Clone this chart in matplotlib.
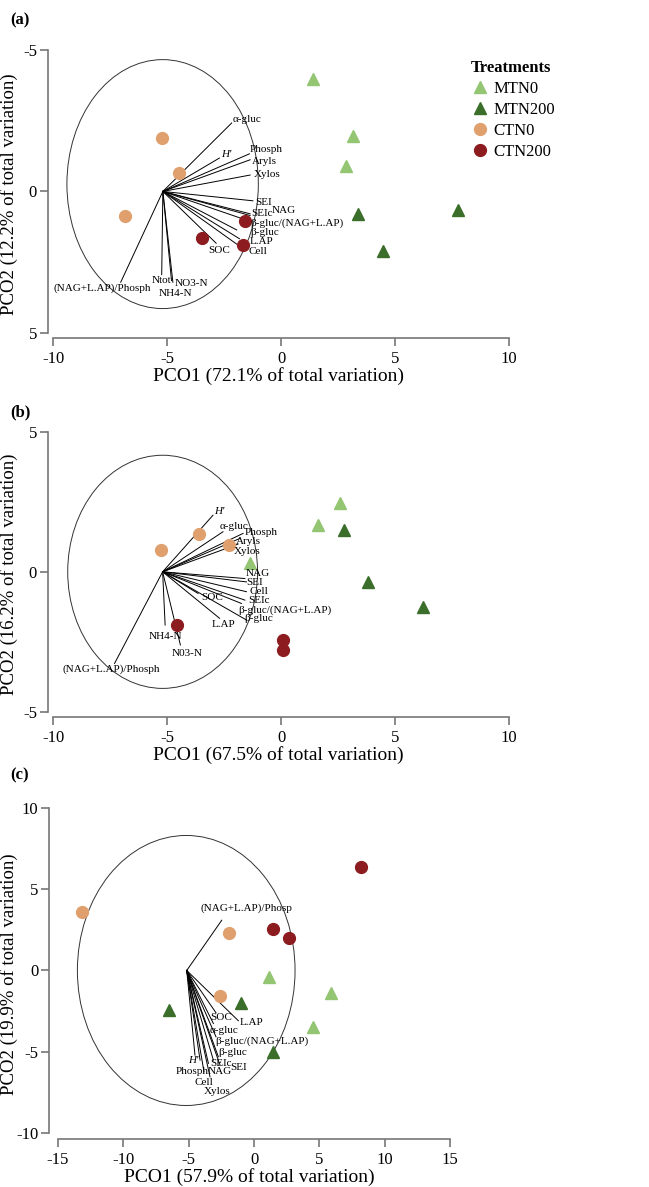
import matplotlib
matplotlib.use('Agg')
import matplotlib.pyplot as plt
from matplotlib.patches import Ellipse

plt.rcParams['font.family'] = ['Liberation Serif', 'DejaVu Serif']
plt.rcParams['axes.unicode_minus'] = False

W, H = 649, 1187
fig = plt.figure(figsize=(W/100, H/100), dpi=100)

colors = {'MTN0': '#93c572', 'MTN200': '#3b6e2b', 'CTN0': '#dfa06e', 'CTN200': '#8c1c1f'}
markers = {'MTN0': '^', 'MTN200': '^', 'CTN0': 'o', 'CTN200': 'o'}
groups = ['MTN0', 'MTN200', 'CTN0', 'CTN200']

# ---------------- panel (a) data ----------------
a_x = {'MTN0': [1.39, 3.17, 2.85], 'MTN200': [3.38, 7.78, 4.46],
       'CTN0': [-5.24, -4.49, -6.83], 'CTN200': [-1.57, -3.47, -1.68]}
a_y = {'MTN0': [-3.96, -1.95, -0.90], 'MTN200': [0.79, 0.64, 2.11],
       'CTN0': [-1.89, -0.65, 0.86], 'CTN200': [1.06, 1.66, 1.91]}
a_origin = (-5.19, 0.0)
a_vec_names = ['α-gluc', "H'", 'Phosph', 'Aryls', 'Xylos', 'SEI', 'NAG', 'SEIc',
               'β-gluc/(NAG+L.AP)', 'β-gluc', 'L.AP', 'Cell', 'SOC', 'Ntot',
               'NO3-N', 'NH4-N', '(NAG+L.AP)/Phosph']
a_vec_x = [-2.17, -2.71, -1.39, -1.36, -1.36, -1.24, -1.36, -1.36, -1.46, -1.95,
           -1.83, -1.76, -2.85, -5.24, -4.75, -4.81, -7.04]
a_vec_y = [-2.42, -1.18, -1.33, -1.12, -0.58, 0.33, 0.79, 0.85, 1.03, 1.36,
           1.67, 1.97, 1.83, 2.94, 3.21, 3.15, 3.21]
a_lab_pos = [(-2.12, -2.55), (-2.63, -1.31), (-1.36, -1.47), (-1.29, -1.07),
             (-1.20, -0.60), (-1.13, 0.39), (-0.40, 0.67), (-1.29, 0.79),
             (-1.36, 1.12), (-1.36, 1.46), (-1.36, 1.76), (-1.42, 2.11),
             (-3.19, 2.09), (-5.66, 3.13), (-4.67, 3.24), (-5.37, 3.62),
             (-9.99, 3.41)]
a_circle = (-5.2, -0.26, 8.4, 8.8)

# ---------------- panel (b) data ----------------
b_x = {'MTN0': [2.59, 1.62, -1.37], 'MTN200': [2.76, 3.80, 6.23],
       'CTN0': [-3.60, -5.29, -2.28], 'CTN200': [-4.55, 0.10, 0.07]}
b_y = {'MTN0': [2.47, 1.66, 0.33], 'MTN200': [1.48, -0.37, -1.26],
       'CTN0': [1.34, 0.77, 0.95], 'CTN200': [-1.91, -2.43, -2.79]}
b_origin = (-5.20, 0.0)
b_vec_names = ["H'", 'α-gluc', 'Phosph', 'Aryls', 'Xylos', 'NAG', 'SEI', 'Cell',
               'SEIc', 'β-gluc/(NAG+L.AP)', 'β-gluc', 'SOC', 'L.AP', 'NH4-N',
               'N03-N', '(NAG+L.AP)/Phosph']
b_vec_x = [-2.99, -2.55, -1.67, -1.81, -1.89, -1.59, -1.52, -1.52, -1.59, -1.74,
           -1.52, -3.65, -2.70, -5.09, -4.42, -7.31]
b_vec_y = [2.02, 1.43, 1.37, 1.19, 0.99, -0.24, -0.36, -0.71, -1.01, -1.13,
           -1.72, -0.77, -1.66, -1.90, -2.61, -3.27]
b_lab_pos = [(-2.95, 2.14), (-2.70, 1.60), (-1.59, 1.39), (-1.99, 1.07),
             (-2.08, 0.71), (-1.56, -0.06), (-1.52, -0.39), (-1.37, -0.71),
             (-1.44, -1.03), (-1.86, -1.37), (-1.62, -1.66), (-3.51, -0.93),
             (-3.04, -1.88), (-5.80, -2.32), (-4.79, -2.91), (-9.61, -3.47)]
b_circle = (-5.2, 0.0, 8.33, 8.32)

# ---------------- panel (c) data ----------------
c_x = {'MTN0': [1.12, 5.87, 4.49], 'MTN200': [-6.48, -0.97, 1.48],
       'CTN0': [-13.16, -1.94, -2.58], 'CTN200': [8.21, 1.48, 2.65]}
c_y = {'MTN0': [-0.39, -1.38, -3.47], 'MTN200': [-2.45, -2.03, -5.02],
       'CTN0': [3.58, 2.34, -1.58], 'CTN200': [6.37, 2.57, 2.03]}
c_origin = (-5.15, 0.0)
c_vec_names = ['(NAG+L.AP)/Phosp', 'L.AP', 'SOC', 'α-gluc', 'β-gluc/(NAG+L.AP)',
               'β-gluc', 'SEI', 'SEIc', 'NAG', "H'", 'Phosph', 'Cell', 'Xylos']
c_vec_x = [-2.47, -1.20, -2.91, -3.11, -2.91, -2.73, -2.60, -3.11, -3.49, -4.52,
           -4.13, -3.83, -3.37]
c_vec_y = [3.10, -3.10, -2.61, -3.27, -4.09, -5.32, -5.84, -5.53, -5.73, -5.22,
           -5.53, -6.25, -6.56]
c_lab_pos = [(-4.08, 3.82), (-1.12, -3.23), (-3.37, -2.92), (-3.37, -3.68),
             (-2.98, -4.36), (-2.73, -5.04), (-1.84, -6.00), (-3.37, -5.73),
             (-3.55, -6.25), (-5.03, -5.57), (-5.97, -6.21), (-4.52, -6.91),
             (-3.83, -7.48)]
c_circle = (-5.19, 0.0, 16.66, 16.65)


def make_ax(left, right, top, bottom):
    return fig.add_axes([left/W, 1 - bottom/H, (right-left)/W, (bottom-top)/H])


def draw_panel(ax, px, py, origin, names, vx, vy, labpos, circ, xlab, ylab,
               xticks, yticks, xlim, ylim, left_px, width_px):
    ax.add_patch(Ellipse((circ[0], circ[1]), circ[2], circ[3], fill=False,
                         lw=0.7, color='#333333'))
    for n, x, y, (lx, ly) in zip(names, vx, vy, labpos):
        ax.plot([origin[0], x], [origin[1], y], color='black', lw=0.7)
        st = 'italic' if n == "H'" else 'normal'
        ax.text(lx, ly, n, fontsize=8, style=st, ha='left', va='center')
    for g in groups:
        ax.plot(px[g], py[g], linestyle='none', marker=markers[g],
                color=colors[g], markersize=8.5, label=g, clip_on=False)
    ax.set_xlim(*xlim)
    ax.set_ylim(*ylim)
    ax.set_xticks(xticks)
    ax.set_yticks(yticks)
    ax.spines['top'].set_visible(False)
    ax.spines['right'].set_visible(False)
    ax.spines['left'].set_bounds(min(yticks), max(yticks))
    ax.spines['bottom'].set_bounds(min(xticks), max(xticks))
    for s in ('left', 'bottom'):
        ax.spines[s].set_color('#777777')
        ax.spines[s].set_linewidth(1.2)
    ax.tick_params(direction='out', length=6, color='#777777', width=1.2,
                   labelsize=12)
    ax.tick_params(axis='y', pad=2)
    ax.set_xlabel(xlab, fontsize=14, labelpad=0)
    ax.set_ylabel(ylab, fontsize=13.5)
    ax.yaxis.set_label_coords((18 - left_px) / width_px, 0.5)
    ax.patch.set_alpha(0)


ax1 = make_ax(48, 509, 50, 338)
draw_panel(ax1, a_x, a_y, a_origin, a_vec_names, a_vec_x, a_vec_y, a_lab_pos,
           a_circle, 'PCO1 (72.1% of total variation)',
           'PCO2 (12.2% of total variation)', [-10, -5, 0, 5, 10], [-5, 0, 5],
           (-10.23, 10), (5.18, -5), 48, 461)
leg = ax1.legend(loc='upper left', bbox_to_anchor=(462/W, 1 - 52/H),
                 bbox_transform=fig.transFigure, frameon=False, title='Treatments',
                 fontsize=12, handletextpad=0.2, labelspacing=0.3,
                 borderpad=0, handlelength=1.2)
leg.get_title().set_fontweight('bold')
leg.get_title().set_fontsize(12)
leg._legend_box.align = 'left'

ax2 = make_ax(48, 509, 431.7, 716.7)
draw_panel(ax2, b_x, b_y, b_origin, b_vec_names, b_vec_x, b_vec_y, b_lab_pos,
           b_circle, 'PCO1 (67.5% of total variation)',
           'PCO2 (16.2% of total variation)', [-10, -5, 0, 5, 10], [-5, 0, 5],
           (-10.23, 10), (-5.17, 5), 48, 461)

ax3 = make_ax(49.3, 450, 808.3, 1139.3)
draw_panel(ax3, c_x, c_y, c_origin, c_vec_names, c_vec_x, c_vec_y, c_lab_pos,
           c_circle, 'PCO1 (57.9% of total variation)',
           'PCO2 (19.9% of total variation)', [-15, -10, -5, 0, 5, 10, 15],
           [-10, -5, 0, 5, 10], (-15.67, 15), (-10.41, 10), 49.3, 400.7)

for lab, y in [('(a)', 20), ('(b)', 412), ('(c)', 775)]:
    fig.text(10/W, 1 - y/H, lab, fontsize=12, fontweight='bold', va='center')

fig.savefig('out.png', dpi=100)
